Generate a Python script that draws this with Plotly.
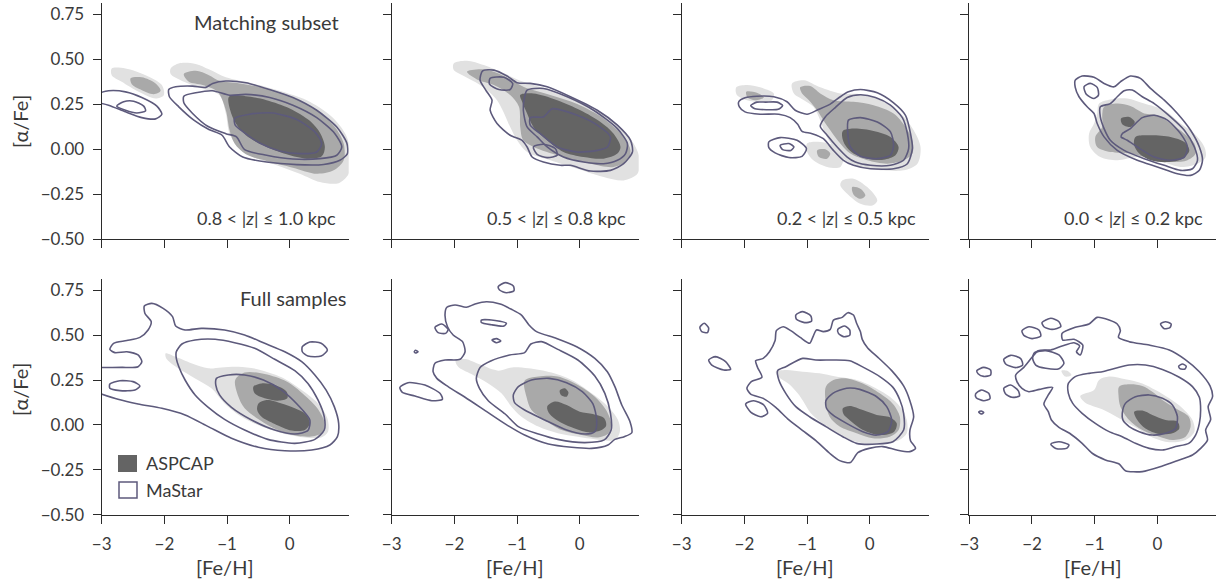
import plotly.graph_objects as go

# ---------------------------------------------------------------------------
# Density-contour outlines in the ([Fe/H], [alpha/Fe]) plane.
# T1..T4 : matching subset, |z| bins 0.8-1.0, 0.5-0.8, 0.2-0.5, 0.0-0.2 kpc
# F1..F4 : full samples, same |z| bins
# ASP_* : ASPCAP filled levels (LIGHT = outermost, MID, DARK = innermost)
# MAS_* : MaStar line levels
# ---------------------------------------------------------------------------

# ---- matching subset, 0.8 < |z| <= 1.0 kpc ----
T1_ASP_LIGHT_MAIN = [(-1.90, 0.449), (-1.77, 0.477), (-1.50, 0.474), (-1.29, 0.444), (-1.02, 0.40), (-0.59, 0.366),
                     (-0.11, 0.319), (0.32, 0.264), (0.70, 0.171), (0.91, 0.069), (0.97, -0.043), (0.94, -0.136),
                     (0.78, -0.188), (0.48, -0.182), (0.16, -0.136), (-0.21, -0.089), (-0.59, -0.043), (-0.80, 0.004),
                     (-0.96, 0.087), (-1.02, 0.199), (-1.12, 0.30), (-1.45, 0.343), (-1.74, 0.384), (-1.90, 0.418)]
T1_ASP_LIGHT_LEFT = [(-2.84, 0.449), (-2.62, 0.449), (-2.30, 0.412), (-2.04, 0.357), (-2.01, 0.30), (-2.14, 0.282),
                     (-2.41, 0.319), (-2.68, 0.375), (-2.84, 0.412)]
T1_ASP_MID_LEFT = [(-2.54, 0.394), (-2.36, 0.40), (-2.14, 0.366), (-2.06, 0.325), (-2.17, 0.306), (-2.38, 0.332),
                   (-2.52, 0.362)]
T1_ASP_MID_MAIN = [(-1.69, 0.418), (-1.50, 0.436), (-1.29, 0.412), (-1.12, 0.381), (-0.80, 0.366), (-0.37, 0.338),
                   (0.05, 0.288), (0.43, 0.217), (0.72, 0.124), (0.86, 0.032), (0.86, -0.061), (0.70, -0.117),
                   (0.43, -0.136), (0.05, -0.102), (-0.37, -0.065), (-0.70, -0.028), (-0.88, 0.032), (-0.96, 0.106),
                   (-1.02, 0.217), (-1.15, 0.319), (-1.39, 0.357), (-1.61, 0.375)]
T1_ASP_DARK = [(-0.97, 0.292), (-0.70, 0.295), (-0.37, 0.273), (0.0, 0.227), (0.32, 0.158), (0.49, 0.087),
               (0.56, 0.013), (0.51, -0.039), (0.27, -0.052), (-0.05, -0.028), (-0.43, 0.022), (-0.70, 0.078),
               (-0.86, 0.143), (-0.95, 0.217)]
T1_MAS_LEFT_OUTER = [(-3.11, 0.305), (-2.89, 0.325), (-2.62, 0.319), (-2.36, 0.288), (-2.12, 0.24), (-2.04, 0.195),
                     (-2.14, 0.169), (-2.36, 0.176), (-2.62, 0.208), (-2.89, 0.245), (-3.11, 0.264)]
T1_MAS_LEFT_INNER = [(-2.76, 0.24), (-2.65, 0.264), (-2.49, 0.267), (-2.33, 0.24), (-2.30, 0.214), (-2.44, 0.202),
                     (-2.62, 0.217)]
T1_MAS_OUTER = [(-1.93, 0.332), (-1.82, 0.347), (-1.55, 0.351), (-1.34, 0.344), (-1.23, 0.366), (-1.02, 0.379),
                (-0.70, 0.37), (-0.32, 0.332), (0.05, 0.288), (0.43, 0.217), (0.75, 0.124), (0.91, 0.035),
                (0.92, -0.024), (0.80, -0.061), (0.54, -0.084), (0.11, -0.085), (-0.37, -0.071), (-0.75, -0.043),
                (-0.96, 0.013), (-1.08, 0.078), (-1.29, 0.11), (-1.53, 0.162), (-1.77, 0.236), (-1.92, 0.292)]
T1_MAS_MIDDLE = [(-1.69, 0.295), (-1.50, 0.314), (-1.23, 0.325), (-0.96, 0.30), (-0.70, 0.305), (-0.32, 0.288),
                 (0.05, 0.245), (0.43, 0.176), (0.72, 0.087), (0.83, 0.013), (0.75, -0.033), (0.48, -0.052),
                 (0.05, -0.054), (-0.37, -0.033), (-0.72, -0.002), (-0.85, 0.069), (-1.02, 0.087), (-1.31, 0.128),
                 (-1.55, 0.199), (-1.69, 0.258)]
T1_MAS_INNER = [(-0.88, 0.171), (-0.64, 0.195), (-0.27, 0.202), (0.11, 0.165), (0.40, 0.097), (0.51, 0.032),
                (0.43, -0.015), (0.16, -0.024), (-0.16, -0.009), (-0.48, 0.035), (-0.72, 0.091), (-0.87, 0.134)]

# ---- matching subset, 0.5 < |z| <= 0.8 kpc ----
T2_ASP_LIGHT = [(-2.01, 0.477), (-1.80, 0.492), (-1.53, 0.468), (-1.21, 0.422), (-0.90, 0.375), (-0.47, 0.329),
                (-0.04, 0.273), (0.38, 0.199), (0.70, 0.106), (0.89, 0.013), (0.96, -0.061), (0.92, -0.136),
                (0.70, -0.173), (0.38, -0.154), (-0.04, -0.108), (-0.47, -0.061), (-0.84, -0.015), (-1.0, 0.05),
                (-1.11, 0.124), (-1.32, 0.273), (-1.59, 0.357), (-1.85, 0.407), (-2.01, 0.44)]
T2_ASP_MID = [(-1.80, 0.431), (-1.53, 0.444), (-1.21, 0.407), (-0.90, 0.347), (-0.47, 0.301), (-0.04, 0.251),
              (0.38, 0.171), (0.70, 0.069), (0.81, -0.006), (0.76, -0.061), (0.54, -0.098), (0.17, -0.08),
              (-0.26, -0.043), (-0.68, 0.004), (-0.90, 0.05), (-0.95, 0.124), (-0.97, 0.236), (-1.11, 0.301),
              (-1.37, 0.357), (-1.64, 0.388)]
T2_ASP_DARK = [(-0.95, 0.301), (-0.74, 0.31), (-0.36, 0.273), (0.01, 0.217), (0.33, 0.152), (0.54, 0.087),
               (0.65, 0.013), (0.60, -0.024), (0.38, -0.052), (0.06, -0.043), (-0.26, -0.015), (-0.52, 0.05),
               (-0.74, 0.124), (-0.84, 0.199), (-0.92, 0.264)]
T2_MAS_OUTER = [(-1.55, 0.436), (-1.37, 0.44), (-1.16, 0.407), (-1.0, 0.37), (-0.79, 0.366), (-0.52, 0.347),
                (-0.15, 0.292), (0.28, 0.217), (0.60, 0.134), (0.81, 0.05), (0.84, -0.015), (0.70, -0.08),
                (0.49, -0.117), (0.17, -0.121), (-0.15, -0.089), (-0.31, -0.089), (-0.58, -0.071), (-0.76, -0.043),
                (-0.84, 0.013), (-0.92, 0.05), (-1.11, 0.078), (-1.32, 0.143), (-1.43, 0.217), (-1.40, 0.273),
                (-1.50, 0.329), (-1.59, 0.384)]
T2_MAS_ISLAND_UL = [(-1.43, 0.394), (-1.21, 0.40), (-1.07, 0.366), (-1.11, 0.332), (-1.29, 0.332), (-1.44, 0.362)]
T2_MAS_MIDDLE = [(-0.84, 0.329), (-0.58, 0.338), (-0.20, 0.292), (0.22, 0.217), (0.60, 0.115), (0.76, 0.032),
                 (0.73, -0.024), (0.60, -0.061), (0.38, -0.08), (0.06, -0.071), (-0.26, -0.043), (-0.52, 0.013),
                 (-0.68, 0.069), (-0.84, 0.124), (-0.90, 0.217), (-0.88, 0.292)]
T2_MAS_INNER = [(-0.79, 0.176), (-0.58, 0.180), (-0.44, 0.225), (-0.04, 0.189), (0.28, 0.134), (0.49, 0.069),
                (0.44, 0.013), (0.28, -0.006), (-0.04, -0.015), (-0.36, 0.013), (-0.63, 0.087), (-0.79, 0.134)]
T2_MAS_ISLAND_LL = [(-0.74, 0.013), (-0.58, 0.028), (-0.39, 0.004), (-0.36, -0.033), (-0.52, -0.046), (-0.68, -0.028)]

# ---- matching subset, 0.2 < |z| <= 0.5 kpc ----
T3_ASP_LIGHT_UL = [(-2.13, 0.344), (-1.96, 0.357), (-1.75, 0.344), (-1.53, 0.31), (-1.56, 0.273), (-1.75, 0.264),
                   (-1.96, 0.273), (-2.12, 0.301)]
T3_ASP_MID_UL = [(-1.97, 0.319), (-1.80, 0.314), (-1.69, 0.288), (-1.83, 0.273), (-1.95, 0.288)]
T3_ASP_LIGHT_MAIN = [(-1.24, 0.366), (-1.05, 0.384), (-0.79, 0.344), (-0.47, 0.31), (-0.15, 0.306), (0.17, 0.273),
                     (0.49, 0.199), (0.70, 0.106), (0.81, 0.013), (0.76, -0.08), (0.54, -0.117), (0.22, -0.117),
                     (-0.15, -0.098), (-0.39, -0.061), (-0.58, 0.013), (-0.71, 0.087), (-0.79, 0.162), (-0.90, 0.236),
                     (-1.05, 0.273), (-1.21, 0.31)]
T3_ASP_MID_MAIN = [(-1.11, 0.344), (-0.95, 0.351), (-0.79, 0.31), (-0.58, 0.273), (-0.26, 0.264), (0.06, 0.245),
                   (0.38, 0.199), (0.57, 0.124), (0.68, 0.05), (0.68, -0.024), (0.54, -0.061), (0.28, -0.08),
                   (-0.04, -0.061), (-0.31, -0.024), (-0.47, 0.032), (-0.63, 0.106), (-0.74, 0.162), (-0.84, 0.217),
                   (-0.97, 0.273), (-1.08, 0.31)]
T3_ASP_DARK = [(-0.43, 0.102), (-0.26, 0.115), (0.06, 0.102), (0.33, 0.069), (0.46, 0.013), (0.41, -0.033),
               (0.22, -0.058), (-0.04, -0.052), (-0.26, -0.024), (-0.39, 0.022), (-0.44, 0.069)]
T3_ASP_LIGHT_LL = [(-1.0, 0.032), (-0.79, 0.041), (-0.52, 0.013), (-0.42, -0.043), (-0.47, -0.098), (-0.68, -0.098),
                   (-0.90, -0.061), (-1.0, -0.015)]
T3_ASP_MID_LL = [(-0.84, -0.006), (-0.71, 0.0), (-0.63, -0.024), (-0.68, -0.052), (-0.81, -0.043)]
T3_ASP_LIGHT_LOW = [(-0.44, -0.173), (-0.26, -0.163), (-0.04, -0.21), (0.12, -0.284), (0.04, -0.312), (-0.15, -0.303),
                    (-0.36, -0.247), (-0.47, -0.20)]
T3_ASP_MID_LOW = [(-0.28, -0.21), (-0.15, -0.219), (-0.07, -0.256), (-0.15, -0.275), (-0.26, -0.251)]
T3_MAS_OUTER = [(-2.09, 0.264), (-1.99, 0.286), (-1.80, 0.295), (-1.53, 0.292), (-1.32, 0.264), (-1.19, 0.217),
                (-1.0, 0.195), (-0.82, 0.221), (-0.63, 0.251), (-0.47, 0.292), (-0.34, 0.319), (-0.15, 0.332),
                (0.12, 0.314), (0.38, 0.258), (0.57, 0.189), (0.65, 0.087), (0.68, 0.004), (0.60, -0.08),
                (0.38, -0.108), (0.01, -0.108), (-0.26, -0.089), (-0.42, -0.061), (-0.58, -0.006), (-0.74, 0.059),
                (-0.92, 0.087), (-1.08, 0.10), (-1.15, 0.139), (-1.27, 0.176), (-1.45, 0.195), (-1.75, 0.195),
                (-1.99, 0.208), (-2.08, 0.236)]
T3_MAS_LOOP = [(-1.90, 0.243), (-1.80, 0.262), (-1.66, 0.262), (-1.48, 0.262), (-1.39, 0.243), (-1.46, 0.222),
               (-1.64, 0.22), (-1.83, 0.225)]
T3_MAS_MIDDLE = [(-0.79, 0.128), (-0.71, 0.18), (-0.55, 0.232), (-0.36, 0.288), (-0.15, 0.303), (0.09, 0.288),
                 (0.33, 0.245), (0.52, 0.176), (0.60, 0.087), (0.62, 0.004), (0.54, -0.061), (0.33, -0.089),
                 (0.01, -0.089), (-0.23, -0.071), (-0.36, -0.043), (-0.52, 0.013), (-0.68, 0.078)]
T3_MAS_INNER = [(-0.34, 0.162), (-0.15, 0.176), (0.12, 0.152), (0.33, 0.097), (0.38, 0.022), (0.33, -0.033),
                (0.12, -0.052), (-0.15, -0.039), (-0.31, 0.013), (-0.35, 0.087)]
T3_MAS_ISLAND_OUT = [(-1.61, 0.041), (-1.43, 0.065), (-1.16, 0.05), (-1.01, 0.004), (-1.08, -0.039), (-1.29, -0.046),
                     (-1.51, -0.02), (-1.61, 0.009)]
T3_MAS_ISLAND_IN = [(-1.43, 0.022), (-1.29, 0.032), (-1.21, 0.013), (-1.26, -0.006), (-1.39, -0.002)]

# ---- matching subset, 0.0 < |z| <= 0.2 kpc ----
T4_ASP_LIGHT = [(-0.93, 0.254), (-0.75, 0.277), (-0.48, 0.282), (-0.21, 0.254), (0.11, 0.217), (0.37, 0.143),
                (0.59, 0.087), (0.75, 0.013), (0.77, -0.043), (0.64, -0.08), (0.37, -0.098), (0.0, -0.061),
                (-0.32, -0.043), (-0.64, -0.061), (-0.91, -0.043), (-1.07, 0.013), (-1.09, 0.087), (-1.01, 0.143),
                (-0.96, 0.199)]
T4_ASP_MID = [(-0.85, 0.236), (-0.64, 0.254), (-0.43, 0.24), (-0.21, 0.199), (0.0, 0.189), (0.21, 0.143),
              (0.43, 0.087), (0.59, 0.032), (0.61, -0.024), (0.48, -0.061), (0.21, -0.071), (-0.11, -0.052),
              (-0.43, -0.024), (-0.75, -0.015), (-0.96, 0.013), (-0.99, 0.069), (-0.88, 0.124), (-0.88, 0.189)]
T4_ASP_DARK = [(-0.35, 0.069), (-0.11, 0.078), (0.21, 0.069), (0.43, 0.041), (0.51, -0.006), (0.40, -0.052),
               (0.16, -0.071), (-0.11, -0.061), (-0.29, -0.024), (-0.37, 0.022)]
T4_ASP_DARK_SMALL = [(-0.58, 0.171), (-0.45, 0.18), (-0.36, 0.152), (-0.43, 0.124), (-0.56, 0.139)]
T4_MAS_OUTER = [(-1.31, 0.384), (-1.20, 0.407), (-1.01, 0.40), (-0.85, 0.366), (-0.69, 0.347), (-0.59, 0.375),
                (-0.43, 0.407), (-0.27, 0.394), (-0.11, 0.338), (0.11, 0.273), (0.32, 0.199), (0.53, 0.106),
                (0.67, 0.013), (0.72, -0.061), (0.67, -0.117), (0.53, -0.145), (0.32, -0.136), (0.0, -0.098),
                (-0.32, -0.061), (-0.64, -0.006), (-0.85, 0.069), (-0.96, 0.143), (-1.01, 0.199), (-1.12, 0.236),
                (-1.25, 0.292), (-1.31, 0.344)]
T4_MAS_LOOP = [(-1.17, 0.347), (-1.07, 0.366), (-0.96, 0.344), (-0.94, 0.301), (-1.01, 0.282), (-1.13, 0.304)]
T4_MAS_MIDDLE = [(-0.91, 0.236), (-0.75, 0.254), (-0.64, 0.292), (-0.53, 0.325), (-0.40, 0.329), (-0.24, 0.292),
                 (-0.05, 0.254), (0.21, 0.18), (0.43, 0.106), (0.59, 0.013), (0.64, -0.061), (0.56, -0.108),
                 (0.37, -0.117), (0.11, -0.089), (-0.21, -0.052), (-0.53, -0.006), (-0.75, 0.05), (-0.85, 0.115),
                 (-0.91, 0.18)]
T4_MAS_INNER = [(-0.56, 0.087), (-0.43, 0.115), (-0.35, 0.143), (-0.24, 0.176), (-0.05, 0.189), (0.16, 0.162),
                (0.37, 0.087), (0.48, 0.013), (0.43, -0.043), (0.21, -0.061), (-0.05, -0.043), (-0.32, 0.013),
                (-0.48, 0.05), (-0.58, 0.069)]

# ---- full samples, 0.8 < |z| <= 1.0 kpc ----
F1_ASP_LIGHT = [(-1.98, 0.398), (-1.83, 0.38), (-1.57, 0.343), (-1.30, 0.315), (-1.09, 0.32), (-0.82, 0.324),
                (-0.50, 0.309), (-0.13, 0.265), (0.19, 0.194), (0.45, 0.12), (0.60, 0.037), (0.61, -0.037),
                (0.50, -0.069), (0.24, -0.069), (-0.08, -0.05), (-0.45, -0.009), (-0.77, 0.046), (-1.04, 0.12),
                (-1.25, 0.204), (-1.51, 0.259), (-1.78, 0.315), (-1.97, 0.37)]
F1_ASP_MID = [(-0.87, 0.25), (-0.72, 0.291), (-0.40, 0.283), (-0.05, 0.241), (0.23, 0.167), (0.44, 0.093),
              (0.55, 0.019), (0.53, -0.037), (0.40, -0.061), (0.13, -0.061), (-0.19, -0.028), (-0.48, 0.028),
              (-0.72, 0.093), (-0.83, 0.167)]
F1_ASP_DARK_UP = [(-0.58, 0.213), (-0.45, 0.231), (-0.24, 0.222), (-0.05, 0.185), (-0.04, 0.148), (-0.19, 0.135),
                  (-0.40, 0.148), (-0.56, 0.176)]
F1_ASP_DARK_LOW = [(-0.50, 0.12), (-0.37, 0.139), (-0.13, 0.12), (0.08, 0.093), (0.25, 0.061), (0.32, 0.009),
                   (0.24, -0.028), (0.03, -0.031), (-0.24, 0.006), (-0.45, 0.046), (-0.52, 0.083)]
F1_MAS_OUTER = [(-3.11, 0.32), (-2.68, 0.32), (-2.42, 0.324), (-2.36, 0.352), (-2.42, 0.389), (-2.60, 0.407),
                (-2.79, 0.402), (-2.87, 0.42), (-2.81, 0.454), (-2.60, 0.469), (-2.39, 0.487), (-2.26, 0.528),
                (-2.21, 0.574), (-2.31, 0.62), (-2.32, 0.661), (-2.20, 0.676), (-2.02, 0.648), (-1.87, 0.602),
                (-1.82, 0.55), (-1.67, 0.528), (-1.41, 0.537), (-1.04, 0.528), (-0.72, 0.50), (-0.40, 0.454),
                (-0.08, 0.407), (0.19, 0.352), (0.40, 0.278), (0.58, 0.194), (0.71, 0.102), (0.78, 0.009),
                (0.76, -0.065), (0.64, -0.111), (0.35, -0.139), (-0.08, -0.143), (-0.50, -0.124), (-0.93, -0.074),
                (-1.30, -0.009), (-1.67, 0.056), (-2.04, 0.093), (-2.42, 0.117), (-2.74, 0.143), (-3.11, 0.185)]
F1_MAS_ISLAND_R = [(0.20, 0.435), (0.32, 0.461), (0.50, 0.454), (0.60, 0.417), (0.50, 0.383), (0.29, 0.383),
                   (0.20, 0.407)]
F1_MAS_ISLAND_L = [(-2.87, 0.228), (-2.71, 0.246), (-2.50, 0.241), (-2.39, 0.217), (-2.47, 0.194), (-2.71, 0.191),
                   (-2.87, 0.204)]
F1_MAS_MIDDLE = [(-1.81, 0.407), (-1.72, 0.45), (-1.51, 0.472), (-1.19, 0.476), (-0.88, 0.457), (-0.56, 0.426),
                 (-0.24, 0.365), (0.08, 0.302), (0.29, 0.231), (0.45, 0.139), (0.55, 0.046), (0.55, -0.028),
                 (0.40, -0.08), (0.08, -0.102), (-0.35, -0.08), (-0.72, -0.028), (-1.04, 0.031), (-1.30, 0.098),
                 (-1.51, 0.167), (-1.67, 0.25), (-1.77, 0.324), (-1.81, 0.37)]
F1_MAS_INNER = [(-1.17, 0.259), (-0.98, 0.278), (-0.72, 0.278), (-0.42, 0.25), (-0.13, 0.194), (0.13, 0.111),
                (0.32, 0.028), (0.29, -0.031), (0.08, -0.05), (-0.24, -0.028), (-0.61, 0.028), (-0.93, 0.098),
                (-1.12, 0.167), (-1.18, 0.222)]

# ---- full samples, 0.5 < |z| <= 0.8 kpc ----
F2_ASP_LIGHT = [(-1.98, 0.357), (-1.83, 0.367), (-1.57, 0.333), (-1.30, 0.302), (-1.08, 0.32), (-0.82, 0.315),
                (-0.45, 0.291), (-0.13, 0.25), (0.19, 0.176), (0.45, 0.102), (0.61, 0.028), (0.64, -0.037),
                (0.56, -0.083), (0.35, -0.083), (-0.03, -0.065), (-0.35, -0.046), (-0.66, -0.009), (-0.93, 0.046),
                (-1.09, 0.102), (-1.25, 0.176), (-1.46, 0.231), (-1.73, 0.283), (-1.94, 0.324)]
F2_ASP_MID = [(-0.88, 0.246), (-0.66, 0.269), (-0.35, 0.269), (-0.03, 0.222), (0.24, 0.157), (0.42, 0.083),
              (0.50, 0.009), (0.46, -0.046), (0.29, -0.069), (0.03, -0.056), (-0.29, -0.028), (-0.56, 0.028),
              (-0.77, 0.083), (-0.85, 0.157)]
F2_ASP_DARK = [(-0.52, 0.102), (-0.40, 0.13), (-0.21, 0.111), (0.0, 0.074), (0.21, 0.061), (0.39, 0.037),
               (0.42, -0.006), (0.33, -0.031), (0.13, -0.041), (-0.13, -0.013), (-0.35, 0.024), (-0.48, 0.061)]
F2_ASP_DARK_SMALL = [(-0.32, 0.191), (-0.24, 0.204), (-0.18, 0.18), (-0.21, 0.157), (-0.30, 0.167)]
F2_MAS_OUTER = [(-2.34, 0.296), (-2.31, 0.343), (-2.15, 0.361), (-1.91, 0.365), (-1.83, 0.407), (-1.87, 0.463),
                (-2.02, 0.50), (-2.11, 0.546), (-2.15, 0.611), (-2.12, 0.654), (-1.99, 0.667), (-1.81, 0.654),
                (-1.67, 0.672), (-1.49, 0.685), (-1.27, 0.672), (-1.09, 0.643), (-0.93, 0.611), (-0.81, 0.556),
                (-0.69, 0.519), (-0.37, 0.481), (-0.05, 0.435), (0.24, 0.37), (0.44, 0.296), (0.56, 0.213),
                (0.67, 0.111), (0.80, 0.019), (0.83, -0.043), (0.71, -0.065), (0.56, -0.08), (0.45, -0.111),
                (0.19, -0.13), (-0.13, -0.124), (-0.50, -0.106), (-0.88, -0.056), (-1.19, 0.006), (-1.51, 0.08),
                (-1.83, 0.154), (-2.10, 0.213), (-2.28, 0.259)]
F2_MAS_ISLAND_TOP = [(-1.30, 0.769), (-1.19, 0.791), (-1.06, 0.772), (-1.05, 0.746), (-1.17, 0.735), (-1.28, 0.75)]
F2_MAS_ISLAND_A = [(-2.31, 0.543), (-2.20, 0.561), (-2.10, 0.531), (-2.14, 0.509), (-2.26, 0.513)]
F2_MAS_ISLAND_B = [(-1.57, 0.583), (-1.35, 0.581), (-1.17, 0.565), (-1.21, 0.55), (-1.41, 0.557), (-1.57, 0.57)]
F2_MAS_ISLAND_C = [(-1.40, 0.472), (-1.33, 0.48), (-1.26, 0.467), (-1.33, 0.457)]
F2_MAS_ISLAND_D = [(-2.64, 0.407), (-2.62, 0.415), (-2.58, 0.407), (-2.62, 0.40)]
F2_MAS_ISLAND_L = [(-2.87, 0.209), (-2.74, 0.235), (-2.47, 0.222), (-2.23, 0.176), (-2.19, 0.143), (-2.36, 0.135),
                   (-2.63, 0.161), (-2.83, 0.181)]
F2_MAS_MIDDLE = [(-1.65, 0.259), (-1.59, 0.32), (-1.42, 0.356), (-1.12, 0.389), (-0.88, 0.402), (-0.78, 0.45),
                 (-0.61, 0.463), (-0.35, 0.42), (-0.03, 0.361), (0.24, 0.272), (0.40, 0.176), (0.49, 0.065),
                 (0.50, -0.028), (0.39, -0.083), (0.08, -0.098), (-0.35, -0.08), (-0.66, -0.05), (-0.98, -0.009),
                 (-1.19, 0.061), (-1.46, 0.135), (-1.60, 0.204)]
F2_MAS_INNER = [(-1.06, 0.167), (-0.98, 0.213), (-0.77, 0.25), (-0.49, 0.259), (-0.21, 0.235), (0.04, 0.185),
                (0.21, 0.117), (0.27, 0.028), (0.24, -0.037), (0.08, -0.05), (-0.21, -0.028), (-0.56, 0.028),
                (-0.88, 0.083), (-1.04, 0.124)]

# ---- full samples, 0.2 < |z| <= 0.5 kpc ----
F3_ASP_LIGHT = [(-1.50, 0.296), (-1.34, 0.306), (-1.07, 0.296), (-0.80, 0.287), (-0.54, 0.269), (-0.21, 0.25),
                (0.05, 0.213), (0.32, 0.157), (0.49, 0.098), (0.59, 0.028), (0.59, -0.046), (0.47, -0.083),
                (0.21, -0.102), (-0.11, -0.102), (-0.43, -0.065), (-0.75, 0.006), (-0.94, 0.065), (-1.04, 0.12),
                (-1.15, 0.176), (-1.29, 0.228), (-1.45, 0.265)]
F3_ASP_MID = [(-0.70, 0.213), (-0.58, 0.25), (-0.36, 0.259), (-0.11, 0.231), (0.16, 0.176), (0.37, 0.117),
              (0.48, 0.046), (0.46, -0.028), (0.32, -0.065), (0.05, -0.074), (-0.21, -0.046), (-0.48, -0.009),
              (-0.64, 0.046), (-0.70, 0.12)]
F3_ASP_DARK = [(-0.43, 0.093), (-0.32, 0.106), (-0.11, 0.083), (0.11, 0.056), (0.32, 0.043), (0.43, 0.009),
               (0.39, -0.037), (0.16, -0.056), (-0.11, -0.028), (-0.31, 0.024), (-0.42, 0.061)]
F3_MAS_OUTER = [(-1.96, 0.204), (-1.89, 0.241), (-1.72, 0.265), (-1.79, 0.32), (-1.82, 0.357), (-1.70, 0.37),
                (-1.60, 0.407), (-1.51, 0.469), (-1.49, 0.524), (-1.38, 0.546), (-1.26, 0.524), (-1.11, 0.487),
                (-0.96, 0.454), (-0.91, 0.487), (-0.85, 0.528), (-0.74, 0.519), (-0.63, 0.531), (-0.58, 0.583),
                (-0.44, 0.598), (-0.35, 0.624), (-0.26, 0.611), (-0.21, 0.565), (-0.15, 0.519), (-0.12, 0.476),
                (-0.03, 0.426), (0.13, 0.376), (0.35, 0.302), (0.54, 0.217), (0.64, 0.135), (0.70, 0.046),
                (0.64, -0.031), (0.65, -0.087), (0.73, -0.13), (0.64, -0.148), (0.43, -0.139), (0.21, -0.12),
                (-0.01, -0.13), (-0.19, -0.154), (-0.31, -0.209), (-0.48, -0.198), (-0.64, -0.157), (-0.86, -0.087),
                (-1.07, -0.031), (-1.29, 0.028), (-1.50, 0.098), (-1.70, 0.148), (-1.90, 0.172)]
F3_MAS_ISLAND_A = [(-2.71, 0.543), (-2.64, 0.565), (-2.57, 0.539), (-2.59, 0.513), (-2.68, 0.519)]
F3_MAS_ISLAND_B = [(-2.57, 0.361), (-2.46, 0.38), (-2.30, 0.352), (-2.22, 0.309), (-2.33, 0.306), (-2.52, 0.333)]
F3_MAS_ISLAND_C = [(-1.98, 0.117), (-1.85, 0.135), (-1.69, 0.111), (-1.63, 0.065), (-1.74, 0.046), (-1.90, 0.072)]
F3_MAS_ISLAND_D = [(-1.18, 0.611), (-1.07, 0.63), (-0.94, 0.606), (-0.93, 0.576), (-1.04, 0.569), (-1.17, 0.587)]
F3_MAS_ISLAND_E = [(-0.51, 0.531), (-0.40, 0.55), (-0.32, 0.528), (-0.32, 0.498), (-0.42, 0.491), (-0.50, 0.509)]
F3_MAS_MIDDLE = [(-1.47, 0.302), (-1.34, 0.324), (-1.07, 0.37), (-0.86, 0.361), (-0.59, 0.361), (-0.32, 0.357),
                 (-0.10, 0.32), (0.16, 0.269), (0.37, 0.209), (0.48, 0.139), (0.54, 0.065), (0.54, -0.028),
                 (0.37, -0.093), (0.11, -0.106), (-0.21, -0.102), (-0.43, -0.065), (-0.70, -0.009), (-0.96, 0.046),
                 (-1.18, 0.102), (-1.34, 0.176), (-1.45, 0.25)]
F3_MAS_INNER = [(-0.70, 0.135), (-0.59, 0.176), (-0.37, 0.204), (-0.16, 0.198), (0.11, 0.157), (0.27, 0.102),
                (0.35, 0.028), (0.29, -0.037), (0.11, -0.056), (-0.11, -0.037), (-0.37, 0.009), (-0.59, 0.056),
                (-0.69, 0.093)]

# ---- full samples, 0.0 < |z| <= 0.2 kpc ----
F4_ASP_LIGHT = [(-1.23, 0.161), (-1.01, 0.194), (-0.93, 0.25), (-0.77, 0.269), (-0.51, 0.254), (-0.24, 0.231),
                (-0.03, 0.194), (0.19, 0.148), (0.40, 0.093), (0.56, 0.028), (0.59, -0.037), (0.45, -0.083),
                (0.19, -0.096), (-0.08, -0.069), (-0.35, -0.013), (-0.61, 0.037), (-0.88, 0.087), (-1.15, 0.124)]
F4_ASP_LIGHT_TIP = [(-1.53, 0.302), (-1.44, 0.302), (-1.37, 0.278), (-1.47, 0.269)]
F4_ASP_MID = [(-0.61, 0.213), (-0.45, 0.226), (-0.24, 0.217), (-0.08, 0.185), (0.08, 0.139), (0.29, 0.093),
              (0.50, 0.046), (0.53, -0.009), (0.45, -0.065), (0.24, -0.083), (0.03, -0.065), (-0.24, -0.028),
              (-0.45, 0.028), (-0.59, 0.102), (-0.62, 0.167)]
F4_ASP_DARK = [(-0.37, 0.074), (-0.24, 0.08), (-0.08, 0.056), (0.13, 0.028), (0.32, 0.019), (0.35, -0.019),
               (0.24, -0.046), (0.03, -0.05), (-0.19, -0.019), (-0.32, 0.028)]
F4_MAS_OUTER = [(-2.26, 0.278), (-2.13, 0.32), (-2.00, 0.376), (-1.90, 0.413), (-1.70, 0.417), (-1.52, 0.439),
                (-1.33, 0.457), (-1.24, 0.439), (-1.29, 0.407), (-1.23, 0.389), (-1.19, 0.444), (-1.33, 0.476),
                (-1.51, 0.472), (-1.52, 0.509), (-1.31, 0.543), (-1.09, 0.561), (-0.96, 0.598), (-0.77, 0.583),
                (-0.64, 0.561), (-0.59, 0.524), (-0.62, 0.487), (-0.45, 0.463), (-0.13, 0.444), (0.19, 0.417),
                (0.44, 0.365), (0.67, 0.296), (0.84, 0.217), (0.88, 0.157), (0.81, 0.102), (0.85, 0.031),
                (0.77, -0.028), (0.80, -0.083), (0.69, -0.13), (0.56, -0.167), (0.35, -0.194), (0.08, -0.228),
                (-0.24, -0.259), (-0.51, -0.254), (-0.61, -0.217), (-0.83, -0.194), (-1.04, -0.157),
                (-1.20, -0.102), (-1.40, -0.046), (-1.57, -0.013), (-1.69, 0.028), (-1.74, 0.074), (-1.81, 0.117),
                (-1.74, 0.167), (-1.67, 0.209), (-1.88, 0.198), (-2.05, 0.185), (-2.16, 0.204), (-2.24, 0.241)]
F4_MAS_LOOP = [(-1.96, 0.402), (-1.78, 0.413), (-1.57, 0.389), (-1.49, 0.343), (-1.57, 0.313), (-1.78, 0.315),
               (-1.94, 0.333), (-1.99, 0.37)]
F4_MAS_ISLAND_1 = [(-2.16, 0.524), (-2.05, 0.546), (-1.89, 0.528), (-1.86, 0.494), (-2.0, 0.48), (-2.13, 0.498)]
F4_MAS_ISLAND_2 = [(-1.84, 0.569), (-1.70, 0.593), (-1.57, 0.574), (-1.54, 0.546), (-1.68, 0.531), (-1.81, 0.546)]
F4_MAS_ISLAND_3 = [(-2.45, 0.365), (-2.34, 0.387), (-2.18, 0.369), (-2.15, 0.333), (-2.26, 0.319), (-2.42, 0.339)]
F4_MAS_ISLAND_4 = [(-2.88, 0.302), (-2.77, 0.32), (-2.66, 0.306), (-2.66, 0.278), (-2.77, 0.27), (-2.86, 0.285)]
F4_MAS_ISLAND_5 = [(-2.90, 0.172), (-2.81, 0.194), (-2.69, 0.176), (-2.67, 0.146), (-2.77, 0.135), (-2.89, 0.152)]
F4_MAS_ISLAND_6 = [(-2.85, 0.072), (-2.81, 0.078), (-2.77, 0.069), (-2.81, 0.061)]
F4_MAS_ISLAND_7 = [(-2.45, 0.204), (-2.34, 0.222), (-2.22, 0.191), (-2.20, 0.161), (-2.32, 0.154), (-2.42, 0.172)]
F4_MAS_ISLAND_8 = [(-1.70, -0.106), (-1.57, -0.093), (-1.41, -0.111), (-1.45, -0.13), (-1.62, -0.13)]
F4_MAS_ISLAND_9 = [(0.05, 0.561), (0.13, 0.574), (0.22, 0.561), (0.20, 0.541), (0.11, 0.535)]
F4_MAS_ISLAND_10 = [(0.34, 0.326), (0.40, 0.339), (0.46, 0.326), (0.44, 0.311), (0.36, 0.313)]
F4_MAS_MIDDLE = [(-1.42, 0.231), (-1.31, 0.269), (-1.09, 0.287), (-0.88, 0.296), (-0.67, 0.315), (-0.45, 0.333),
                 (-0.19, 0.333), (0.08, 0.309), (0.35, 0.265), (0.56, 0.213), (0.67, 0.154), (0.69, 0.083),
                 (0.67, 0.009), (0.61, -0.056), (0.50, -0.102), (0.29, -0.12), (0.08, -0.139), (-0.13, -0.13),
                 (-0.35, -0.102), (-0.56, -0.065), (-0.77, -0.037), (-0.99, 0.009), (-1.20, 0.065), (-1.35, 0.12),
                 (-1.42, 0.176)]
F4_MAS_INNER = [(-0.56, 0.065), (-0.51, 0.12), (-0.35, 0.157), (-0.13, 0.167), (0.08, 0.148), (0.24, 0.111),
                (0.32, 0.046), (0.29, -0.019), (0.13, -0.046), (-0.08, -0.056), (-0.29, -0.037), (-0.45, -0.009),
                (-0.55, 0.028)]

# ---- labels ----
ZBIN_LABELS = ["0.8 &lt; |<i>z</i>| ≤ 1.0 kpc", "0.5 &lt; |<i>z</i>| ≤ 0.8 kpc",
               "0.2 &lt; |<i>z</i>| ≤ 0.5 kpc", "0.0 &lt; |<i>z</i>| ≤ 0.2 kpc"]
ROW_TITLES = ["Matching subset", "Full samples"]
SERIES_NAMES = ["ASPCAP", "MaStar"]
X_TICKS = [-3, -2, -1, 0]
X_TICK_TEXT = ["−3", "−2", "−1", "0"]
Y_TICKS = [0.75, 0.50, 0.25, 0.00, -0.25, -0.50]
Y_TICK_TEXT = ["0.75", "0.50", "0.25", "0.00", "−0.25", "−0.50"]
X_LABEL = "[Fe/H]"
Y_LABEL = "[α/Fe]"

# panel table: (light fills, mid fills, dark fills, MaStar lines, open MaStar lines)
PANELS = [
    ([T1_ASP_LIGHT_LEFT, T1_ASP_LIGHT_MAIN], [T1_ASP_MID_LEFT, T1_ASP_MID_MAIN], [T1_ASP_DARK],
     [T1_MAS_LEFT_INNER, T1_MAS_OUTER, T1_MAS_MIDDLE, T1_MAS_INNER], [T1_MAS_LEFT_OUTER]),
    ([T2_ASP_LIGHT], [T2_ASP_MID], [T2_ASP_DARK],
     [T2_MAS_OUTER, T2_MAS_ISLAND_UL, T2_MAS_MIDDLE, T2_MAS_INNER, T2_MAS_ISLAND_LL], []),
    ([T3_ASP_LIGHT_UL, T3_ASP_LIGHT_MAIN, T3_ASP_LIGHT_LL, T3_ASP_LIGHT_LOW],
     [T3_ASP_MID_UL, T3_ASP_MID_MAIN, T3_ASP_MID_LL, T3_ASP_MID_LOW], [T3_ASP_DARK],
     [T3_MAS_OUTER, T3_MAS_LOOP, T3_MAS_MIDDLE, T3_MAS_INNER, T3_MAS_ISLAND_OUT, T3_MAS_ISLAND_IN], []),
    ([T4_ASP_LIGHT], [T4_ASP_MID], [T4_ASP_DARK, T4_ASP_DARK_SMALL],
     [T4_MAS_OUTER, T4_MAS_LOOP, T4_MAS_MIDDLE, T4_MAS_INNER], []),
    ([F1_ASP_LIGHT], [F1_ASP_MID], [F1_ASP_DARK_UP, F1_ASP_DARK_LOW],
     [F1_MAS_ISLAND_R, F1_MAS_ISLAND_L, F1_MAS_MIDDLE, F1_MAS_INNER], [F1_MAS_OUTER]),
    ([F2_ASP_LIGHT], [F2_ASP_MID], [F2_ASP_DARK, F2_ASP_DARK_SMALL],
     [F2_MAS_OUTER, F2_MAS_ISLAND_TOP, F2_MAS_ISLAND_A, F2_MAS_ISLAND_B, F2_MAS_ISLAND_C, F2_MAS_ISLAND_D,
      F2_MAS_ISLAND_L, F2_MAS_MIDDLE, F2_MAS_INNER], []),
    ([F3_ASP_LIGHT], [F3_ASP_MID], [F3_ASP_DARK],
     [F3_MAS_OUTER, F3_MAS_ISLAND_A, F3_MAS_ISLAND_B, F3_MAS_ISLAND_C, F3_MAS_ISLAND_D, F3_MAS_ISLAND_E,
      F3_MAS_MIDDLE, F3_MAS_INNER], []),
    ([F4_ASP_LIGHT, F4_ASP_LIGHT_TIP], [F4_ASP_MID], [F4_ASP_DARK],
     [F4_MAS_OUTER, F4_MAS_LOOP, F4_MAS_ISLAND_1, F4_MAS_ISLAND_2, F4_MAS_ISLAND_3, F4_MAS_ISLAND_4,
      F4_MAS_ISLAND_5, F4_MAS_ISLAND_6, F4_MAS_ISLAND_7, F4_MAS_ISLAND_8, F4_MAS_ISLAND_9, F4_MAS_ISLAND_10,
      F4_MAS_MIDDLE, F4_MAS_INNER], []),
]

# ---- style ----
W, H = 1222, 580
FONT = "Lato, 'DejaVu Sans', sans-serif"
TEXT = "#3a3a3a"
SPINE = "#2b2b2b"
FILL_COLORS = ["#e1e1e1", "#a9a9a9", "#646464"]
LINE_COLOR = "#5d5a7c"
COL_LEFT_PX = [101.7, 391.7, 681.7, 969.3]
PANEL_W_PX = 247.0
ROW_DOMAINS = [(0.5874, 0.9940), (0.1121, 0.5186)]
X_RANGE = [-3.0, 0.94]
Y_RANGE = [-0.5, 0.81]


def closed(pts):
    return list(pts) + [pts[0]]


fig = go.Figure()
for k, (light, mid, dark, lines, open_lines) in enumerate(PANELS):
    n = k + 1
    xa, ya = ("x", "y") if n == 1 else (f"x{n}", f"y{n}")
    for level, polys in enumerate([light, mid, dark]):
        for poly in polys:
            pts = closed(poly)
            fig.add_trace(go.Scatter(
                x=[p[0] for p in pts], y=[p[1] for p in pts], xaxis=xa, yaxis=ya,
                mode="lines", fill="toself", fillcolor=FILL_COLORS[level],
                line=dict(width=0, color=FILL_COLORS[level], shape="spline", smoothing=0.9),
                hoverinfo="skip", showlegend=False))
    for poly, is_open in [(p, False) for p in lines] + [(p, True) for p in open_lines]:
        pts = list(poly) if is_open else closed(poly)
        fig.add_trace(go.Scatter(
            x=[p[0] for p in pts], y=[p[1] for p in pts], xaxis=xa, yaxis=ya,
            mode="lines", line=dict(width=1.6, color=LINE_COLOR, shape="spline", smoothing=0.7),
            hoverinfo="skip", showlegend=False))

    row, col = divmod(k, 4)
    x0 = COL_LEFT_PX[col] / W
    axis_common = dict(showline=True, linecolor=SPINE, linewidth=1.2, ticks="outside", ticklen=8,
                       tickwidth=1.2, tickcolor=SPINE, showgrid=False, zeroline=False, automargin=False,
                       tickfont=dict(family=FONT, size=17, color=TEXT))
    fig.layout["xaxis" if n == 1 else f"xaxis{n}"] = dict(
        axis_common, domain=[x0, x0 + PANEL_W_PX / W], range=X_RANGE, anchor=ya,
        tickvals=X_TICKS, ticktext=X_TICK_TEXT, showticklabels=(row == 1), ticklabelstandoff=6)
    fig.layout["yaxis" if n == 1 else f"yaxis{n}"] = dict(
        axis_common, domain=list(ROW_DOMAINS[row]), range=Y_RANGE, anchor=xa,
        tickvals=Y_TICKS, ticktext=Y_TICK_TEXT, showticklabels=(col == 0), ticklabelstandoff=5)

annotations = []
for col in range(4):
    xr = (COL_LEFT_PX[col] + 236) / W
    annotations.append(dict(text=ZBIN_LABELS[col], xref="paper", yref="paper", x=xr, y=(H - 218) / H,
                            xanchor="right", yanchor="middle", showarrow=False,
                            font=dict(family=FONT, size=18, color=TEXT)))
    annotations.append(dict(text=X_LABEL, xref="paper", yref="paper",
                            x=(COL_LEFT_PX[col] + PANEL_W_PX / 2) / W, y=(H - 567) / H,
                            xanchor="center", yanchor="middle", showarrow=False,
                            font=dict(family=FONT, size=20, color=TEXT)))
for row, yc in enumerate([122, 390]):
    annotations.append(dict(text=Y_LABEL, xref="paper", yref="paper", x=20 / W, y=(H - yc) / H,
                            textangle=-90, xanchor="center", yanchor="middle", showarrow=False,
                            font=dict(family=FONT, size=20, color=TEXT)))
annotations.append(dict(text=ROW_TITLES[0], xref="paper", yref="paper", x=341 / W, y=(H - 22) / H,
                        xanchor="right", yanchor="middle", showarrow=False,
                        font=dict(family=FONT, size=20, color=TEXT)))
annotations.append(dict(text=ROW_TITLES[1], xref="paper", yref="paper", x=348 / W, y=(H - 298) / H,
                        xanchor="right", yanchor="middle", showarrow=False,
                        font=dict(family=FONT, size=20, color=TEXT)))

# legend key in the lower-left full-sample panel
shapes = [
    dict(type="rect", xref="paper", yref="paper", x0=118 / W, x1=137 / W, y0=(H - 472) / H, y1=(H - 455) / H,
         fillcolor=FILL_COLORS[2], line=dict(width=0)),
    dict(type="rect", xref="paper", yref="paper", x0=119 / W, x1=137 / W, y0=(H - 498) / H, y1=(H - 482) / H,
         fillcolor="white", line=dict(width=1.5, color=LINE_COLOR)),
]
for name, yc in zip(SERIES_NAMES, [463, 490]):
    annotations.append(dict(text=name, xref="paper", yref="paper", x=144 / W, y=(H - yc) / H,
                            xanchor="left", yanchor="middle", showarrow=False,
                            font=dict(family=FONT, size=18, color=TEXT)))

fig.update_layout(width=W, height=H, margin=dict(l=0, r=0, t=0, b=0), paper_bgcolor="white",
                  plot_bgcolor="white", showlegend=False, annotations=annotations, shapes=shapes)
fig.write_html("out.html")
